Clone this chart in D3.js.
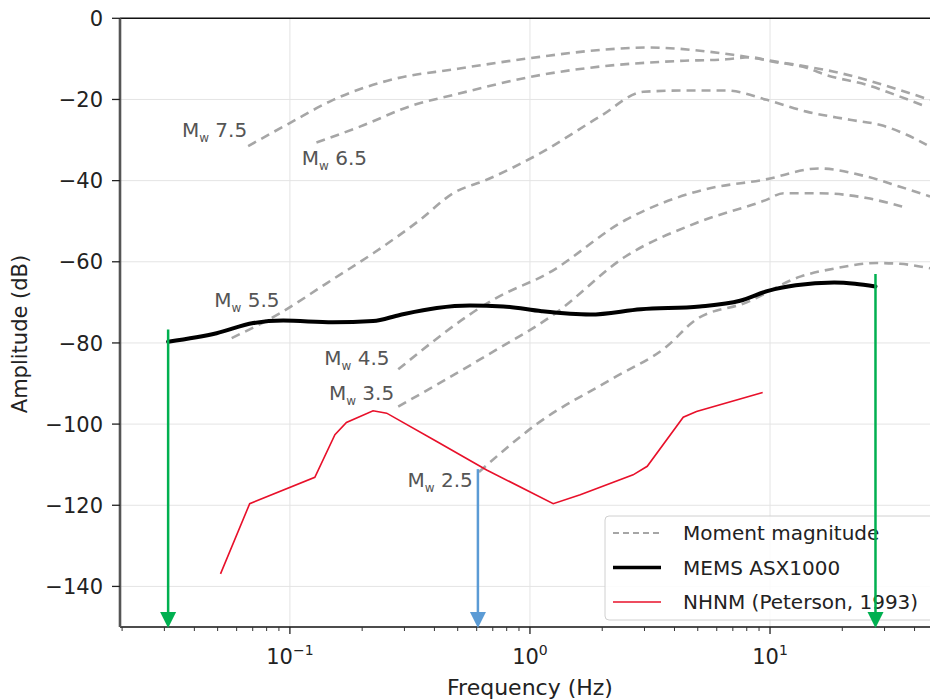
<!DOCTYPE html>
<html>
<head>
<meta charset="utf-8">
<script src="https://cdn.jsdelivr.net/npm/d3@7"></script>
<style>
  body { margin: 0; background: #fff; }
  text { font-family: "DejaVu Sans", sans-serif; }
</style>
</head>
<body>
<script>
    // ---- data (frequency in Hz, amplitude in dB) ----
    var nhnmFreq = [0.0514, 0.068, 0.127, 0.154, 0.172, 0.222, 0.253, 0.409, 0.66, 1.25, 1.62, 2.69, 3.08, 4.35, 4.94, 9.32];
    var nhnmDb   = [-136.9, -119.6, -113.1, -102.6, -99.6, -96.7, -97.3, -104.3, -111.3, -119.6, -117.4, -112.5, -110.4, -98.3, -96.9, -92.2];

    var memsFreq = [0.0311, 0.0495, 0.0704, 0.0938, 0.151, 0.222, 0.287, 0.409, 0.562, 0.774, 1.12, 1.78, 2.9, 5.1, 7.5, 9.9, 12.8, 18.5, 22.6, 27.5];
    var memsDb   = [-79.7, -77.6, -75.1, -74.5, -74.9, -74.6, -73.1, -71.4, -70.8, -71.0, -72.2, -73.0, -71.7, -71.0, -69.6, -67.1, -65.8, -65.1, -65.4, -66.1];

    var mw75Freq = [0.067, 0.1007, 0.1515, 0.2786, 0.479, 1.10, 1.957, 3.06, 7.01, 9.69, 14.2, 18.3, 25.3, 34.8, 46.4];
    var mw75Db   = [-31.5, -25.7, -20.1, -14.8, -12.6, -9.5, -7.8, -7.2, -9.0, -10.3, -11.9, -13.1, -15.2, -17.7, -20.1];

    var mw65Freq = [0.129, 0.1957, 0.3266, 0.479, 1.10, 1.957, 4.22, 6.60, 8.25, 10.3, 14.2, 17.2, 25.3, 34.8, 44.96];
    var mw65Db   = [-30.6, -26.7, -21.4, -18.9, -14.0, -11.9, -10.5, -10.1, -9.6, -10.7, -12.2, -14.0, -16.4, -19.3, -21.8];

    var mw55Freq = [0.0572, 0.0909, 0.1422, 0.2224, 0.348, 0.479, 0.66, 1.10, 1.957, 2.97, 4.35, 6.60, 9.69, 14.2, 21.5, 29.7, 37.1, 44.96];
    var mw55Db   = [-78.8, -72.7, -65.3, -57.9, -49.7, -43.1, -39.8, -33.3, -24.2, -18.1, -17.8, -17.8, -20.1, -23.0, -25.0, -26.5, -28.7, -31.2];

    var mw45Freq = [0.2827, 0.7198, 1.193, 2.50, 5.24, 9.60, 15.9, 25.3, 34.8, 46.4];
    var mw45Db   = [-86.5, -69.0, -62.8, -49.7, -42.3, -39.7, -37.0, -39.0, -41.5, -43.9];

    var mw35Freq = [0.2827, 0.651, 1.276, 2.50, 4.90, 9.60, 11.4, 15.9, 25.3, 35.5];
    var mw35Db   = [-95.7, -83.3, -72.7, -58.7, -50.5, -44.8, -43.1, -43.1, -44.3, -46.4];

    var mw25Freq = [0.613, 1.078, 2.22, 3.71, 4.90, 8.0, 13.45, 18.8, 27.8, 34.8, 46.4];
    var mw25Db   = [-111.8, -99.8, -88.7, -80.9, -74.3, -70.0, -63.6, -61.6, -60.3, -60.5, -61.6];

    var mwNames  = ["7.5", "6.5", "5.5", "4.5", "3.5", "2.5"];
    var mwLabelFreq = [0.0355, 0.112, 0.0484, 0.139, 0.1454, 0.309];
    var mwLabelDb   = [-29.3, -36.2, -71.2, -85.4, -94.1, -115.4];

    var arrowFreq  = [0.0311, 27.5, 0.607];
    var arrowTopDb = [-76.7, -63.0, -111.1];
    var arrowColor = ["#00b050", "#00b050", "#5b9bd5"];

    var yTicks = [0, -20, -40, -60, -80, -100, -120, -140];
    var xTicks = [0.1, 1, 10];
    var xTickExp = ["\u22121", "0", "1"];
    var legendNames = ["Moment magnitude", "MEMS ASX1000", "NHNM (Peterson, 1993)"];

    // ---- layout ----
    var width = 930, height = 700,
        plotLeft = 120, plotRight = 950, plotTop = 18.3, plotBottom = 627;

    var x = d3.scaleLog().domain([0.0196, 56.2]).range([plotLeft, plotRight]);
    var y = d3.scaleLinear().domain([-150, 0]).range([plotBottom, plotTop]);

    function zip(f, v) {
        return f.map(function (d, i) { return {f: d, v: v[i]}; });
    }

    var svg = d3.select("body").append("svg")
        .attr("width", width)
        .attr("height", height);

    var defs = svg.append("defs");
    defs.append("clipPath").attr("id", "plot")
        .append("rect").attr("x", plotLeft).attr("y", plotTop)
        .attr("width", plotRight - plotLeft).attr("height", plotBottom - plotTop);

    // grid
    svg.append("g").selectAll("line").data(yTicks).enter().append("line")
        .attr("x1", plotLeft).attr("x2", plotRight)
        .attr("y1", function (d) { return y(d); })
        .attr("y2", function (d) { return y(d); })
        .attr("stroke", "#e4e4e4").attr("stroke-width", 1);
    svg.append("g").selectAll("line").data(xTicks).enter().append("line")
        .attr("x1", function (d) { return x(d); })
        .attr("x2", function (d) { return x(d); })
        .attr("y1", plotTop).attr("y2", plotBottom)
        .attr("stroke", "#e4e4e4").attr("stroke-width", 1);

    var line = d3.line()
        .x(function (d) { return x(d.f); })
        .y(function (d) { return y(d.v); });
    var smooth = d3.line()
        .x(function (d) { return x(d.f); })
        .y(function (d) { return y(d.v); })
        .curve(d3.curveMonotoneX);

    var plot = svg.append("g").attr("clip-path", "url(#plot)");

    // moment magnitude curves
    var mwSeries = [
        zip(mw75Freq, mw75Db), zip(mw65Freq, mw65Db), zip(mw55Freq, mw55Db),
        zip(mw45Freq, mw45Db), zip(mw35Freq, mw35Db), zip(mw25Freq, mw25Db)
    ];
    plot.selectAll(".mw").data(mwSeries).enter().append("path")
        .attr("class", "mw")
        .attr("d", smooth)
        .attr("fill", "none")
        .attr("stroke", "#a6a6a6")
        .attr("stroke-width", 2.6)
        .attr("stroke-dasharray", "9,6");

    // MEMS self noise
    plot.append("path")
        .attr("d", smooth(zip(memsFreq, memsDb)))
        .attr("fill", "none")
        .attr("stroke", "#000")
        .attr("stroke-width", 4)
        .attr("stroke-linecap", "round");

    // NHNM
    plot.append("path")
        .attr("d", line(zip(nhnmFreq, nhnmDb)))
        .attr("fill", "none")
        .attr("stroke", "#e8102a")
        .attr("stroke-width", 1.6);

    // Mw labels
    var labels = svg.append("g").selectAll("text")
        .data(mwNames).enter().append("text")
        .attr("x", function (d, i) { return x(mwLabelFreq[i]); })
        .attr("y", function (d, i) { return y(mwLabelDb[i]); })
        .attr("fill", "#555")
        .style("font-size", "20px");
    labels.append("tspan").text("M");
    labels.append("tspan").attr("dy", 5).style("font-size", "12px").text("w");
    labels.append("tspan").attr("dy", -5).text(function (d) { return "\u00a0" + d; });

    // axes spines
    svg.append("line").attr("x1", plotLeft).attr("x2", width).attr("y1", plotTop).attr("y2", plotTop)
        .attr("stroke", "#111").attr("stroke-width", 1.6);
    svg.append("line").attr("x1", plotLeft).attr("x2", width).attr("y1", plotBottom).attr("y2", plotBottom)
        .attr("stroke", "#111").attr("stroke-width", 1.6);
    svg.append("line").attr("x1", plotLeft).attr("x2", plotLeft).attr("y1", plotTop).attr("y2", plotBottom)
        .attr("stroke", "#555").attr("stroke-width", 2.6);

    // y ticks
    var yg = svg.append("g").selectAll("g").data(yTicks).enter().append("g");
    yg.append("line")
        .attr("x1", plotLeft - 8).attr("x2", plotLeft)
        .attr("y1", function (d) { return y(d); })
        .attr("y2", function (d) { return y(d); })
        .attr("stroke", "#222").attr("stroke-width", 1.3);
    yg.append("text")
        .attr("x", plotLeft - 17)
        .attr("y", function (d) { return y(d); })
        .attr("dy", "0.36em")
        .attr("text-anchor", "end")
        .attr("fill", "#222")
        .style("font-size", "21px")
        .text(function (d) { return d < 0 ? "\u2212" + Math.abs(d) : d; });

    // x ticks (major + minor)
    var minor = [];
    [0.01, 0.1, 1, 10].forEach(function (base) {
        for (var k = 2; k <= 9; k++) {
            var v = base * k;
            if (x(v) > plotLeft && x(v) < width) minor.push(v);
        }
    });
    svg.append("g").selectAll("line").data(minor).enter().append("line")
        .attr("x1", function (d) { return x(d); })
        .attr("x2", function (d) { return x(d); })
        .attr("y1", plotBottom).attr("y2", plotBottom + 4)
        .attr("stroke", "#333").attr("stroke-width", 1);
    var xg = svg.append("g").selectAll("g").data(xTicks).enter().append("g");
    xg.append("line")
        .attr("x1", function (d) { return x(d); })
        .attr("x2", function (d) { return x(d); })
        .attr("y1", plotBottom).attr("y2", plotBottom + 7)
        .attr("stroke", "#222").attr("stroke-width", 1.3);
    var xt = xg.append("text")
        .attr("x", function (d) { return x(d); })
        .attr("y", plotBottom + 37)
        .attr("text-anchor", "middle")
        .attr("fill", "#222")
        .style("font-size", "21px");
    xt.append("tspan").text("10");
    xt.append("tspan").attr("dy", -9).style("font-size", "14px")
        .text(function (d, i) { return xTickExp[i]; });

    // axis titles
    svg.append("text")
        .attr("x", 530).attr("y", 695)
        .attr("text-anchor", "middle")
        .attr("fill", "#222")
        .style("font-size", "22px")
        .text("Frequency (Hz)");
    svg.append("text")
        .attr("transform", "translate(27,334) rotate(-90)")
        .attr("text-anchor", "middle")
        .attr("fill", "#222")
        .style("font-size", "21px")
        .text("Amplitude (dB)");

    // legend
    var lg = svg.append("g").attr("transform", "translate(605,516)");
    lg.append("rect")
        .attr("width", 340).attr("height", 104).attr("rx", 4)
        .attr("fill", "#fff").attr("fill-opacity", 0.85)
        .attr("stroke", "#d0d0d0").attr("stroke-width", 1);
    var styles = [
        {stroke: "#a6a6a6", w: 2, dash: "6,4"},
        {stroke: "#000", w: 3.5, dash: null},
        {stroke: "#e8102a", w: 1.6, dash: null}
    ];
    var items = lg.selectAll(".item").data(legendNames).enter().append("g")
        .attr("transform", function (d, i) { return "translate(0," + (17 + i * 34.5) + ")"; });
    items.append("line")
        .attr("x1", 8).attr("x2", 56)
        .attr("stroke", function (d, i) { return styles[i].stroke; })
        .attr("stroke-width", function (d, i) { return styles[i].w; })
        .attr("stroke-dasharray", function (d, i) { return styles[i].dash; });
    items.append("text")
        .attr("x", 78).attr("dy", "0.36em")
        .attr("fill", "#222")
        .style("font-size", "20px")
        .text(function (d) { return d; });

    // annotation arrows
    var arrows = arrowFreq.map(function (f, i) {
        return {f: f, top: arrowTopDb[i], color: arrowColor[i]};
    });
    var ag = svg.append("g").selectAll("g").data(arrows).enter().append("g");
    ag.append("line")
        .attr("x1", function (d) { return x(d.f); })
        .attr("x2", function (d) { return x(d.f); })
        .attr("y1", function (d) { return y(d.top); })
        .attr("y2", plotBottom - 12)
        .attr("stroke", function (d) { return d.color; })
        .attr("stroke-width", 2.5);
    ag.append("path")
        .attr("d", function (d) {
            var cx = x(d.f);
            return "M" + (cx - 8) + "," + (plotBottom - 15) + "L" + (cx + 8) + "," + (plotBottom - 15) + "L" + cx + "," + (plotBottom + 1) + "Z";
        })
        .attr("fill", function (d) { return d.color; });
</script>
</body>
</html>
